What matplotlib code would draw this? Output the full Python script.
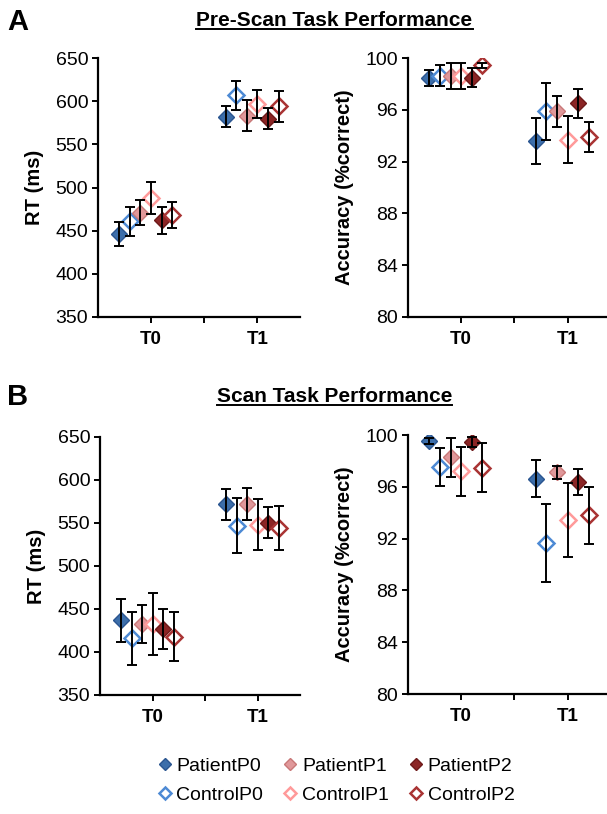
import numpy as np
import matplotlib
matplotlib.use('Agg')
import matplotlib.pyplot as plt
from matplotlib.lines import Line2D

plt.rcParams['font.family'] = ['Liberation Sans', 'DejaVu Sans']

# series order inside each time point
series = ['PatientP0', 'ControlP0', 'PatientP1', 'ControlP1', 'PatientP2', 'ControlP2']
timepoints = ['T0', 'T1']

# pre-scan task, values per series: [T0, T1]
pre_rt_mean = [[446, 582], [461, 607], [471, 583], [488, 597], [462, 580], [468, 594]]
pre_rt_err = [[14, 12], [17, 17], [14, 18], [19, 16], [16, 12], [15, 18]]
pre_acc_mean = [[98.45, 93.6], [98.65, 95.9], [98.65, 95.9], [98.65, 93.7], [98.5, 96.5], [99.45, 93.9]]
pre_acc_err = [[0.6, 1.75], [0.8, 2.2], [1.0, 1.2], [1.0, 1.8], [0.7, 1.1], [0.2, 1.15]]

# scan task
scan_rt_mean = [[437, 572], [416, 547], [433, 572], [432, 548], [427, 550], [418, 544]]
scan_rt_err = [[25, 18], [31, 32], [22, 19], [36, 30], [23, 18], [29, 26]]
scan_acc_mean = [[99.55, 96.65], [97.55, 91.65], [98.3, 97.15], [97.2, 93.45], [99.45, 96.4], [97.5, 93.8]]
scan_acc_err = [[0.2, 1.4], [1.45, 3.0], [1.5, 0.5], [1.9, 2.85], [0.4, 1.0], [1.9, 2.2]]

# styling per series
offsets = [-0.30, -0.20, -0.10, 0.0, 0.10, 0.20]
face_cols = ['#3c6eaa', 'white', '#e0989a', 'white', '#8b2525', 'white']
edge_cols = ['#2a5590', '#4d8ad4', '#c87878', '#ff9a9a', '#6e1a1a', '#a93434']

fig = plt.figure(figsize=(6.07, 8.14), dpi=100)


def draw_panel(rect, means, errs, ylim, yticks, ylabel, xmax):
    ax = fig.add_axes(rect)
    x = np.arange(len(timepoints))
    handles = []
    for i in range(len(series)):
        xs = x + offsets[i]
        h, = ax.plot(xs, means[i], linestyle='none', marker='D', ms=8,
                     mfc=face_cols[i], mec=edge_cols[i],
                     mew=1.0 if face_cols[i] != 'white' else 1.8,
                     label=series[i], zorder=2)
        handles.append(h)
        ax.errorbar(xs, means[i], yerr=errs[i], fmt='none', ecolor='black',
                    elinewidth=1.4, capsize=3.5, capthick=1.4, zorder=3)
    ax.set_xlim(-0.5, xmax)
    ax.set_ylim(*ylim)
    ax.set_yticks(yticks)
    ax.set_xticks([0, 0.5, 1])
    ax.set_xticklabels(['T0', '', 'T1'], fontweight='bold', fontsize=13.5)
    ax.tick_params(axis='y', labelsize=14, length=4, width=1.4, pad=3)
    ax.tick_params(axis='x', length=4, width=1.4, pad=6)
    for s in ['top', 'right']:
        ax.spines[s].set_visible(False)
    for s in ['left', 'bottom']:
        ax.spines[s].set_linewidth(1.6)
    ax.set_ylabel(ylabel, fontweight='bold', fontsize=14.5, labelpad=8)
    return ax, handles


rt_ticks = np.arange(350, 651, 50)
acc_ticks = np.arange(80, 101, 4)

ax1, handles = draw_panel([0.1614, 0.6106, 0.3328, 0.318], pre_rt_mean, pre_rt_err,
                          (350, 650), rt_ticks, 'RT (ms)', 1.4)
ax2, _ = draw_panel([0.672, 0.6106, 0.33, 0.318], pre_acc_mean, pre_acc_err,
                    (80, 100), acc_ticks, 'Accuracy (%correct)', 1.38)
ax3, _ = draw_panel([0.1647, 0.1462, 0.3295, 0.317], scan_rt_mean, scan_rt_err,
                    (350, 650), rt_ticks, 'RT (ms)', 1.4)
ax4, _ = draw_panel([0.672, 0.1474, 0.33, 0.318], scan_acc_mean, scan_acc_err,
                    (80, 100), acc_ticks, 'Accuracy (%correct)', 1.38)

# panel letters and titles
fig.text(0.012, 0.973, 'A', fontsize=21, fontweight='bold', va='center')
fig.text(0.012, 0.512, 'B', fontsize=21, fontweight='bold', va='center')
t1 = fig.text(0.551, 0.975, 'Pre-Scan Task Performance', fontsize=15,
              fontweight='bold', ha='center', va='center')
t2 = fig.text(0.551, 0.513, 'Scan Task Performance', fontsize=15,
              fontweight='bold', ha='center', va='center')

fig.legend(handles, series, ncol=3, loc='center', bbox_to_anchor=(0.553, 0.041),
           frameon=False, fontsize=14, handlelength=0.8, handletextpad=0.2,
           columnspacing=1.0, numpoints=1, markerscale=0.8, labelspacing=0.55)

# underline the titles
fig.canvas.draw()
renderer = fig.canvas.get_renderer()
inv = fig.transFigure.inverted()
for t in [t1, t2]:
    bb = t.get_window_extent(renderer)
    (x0, y0), (x1, _) = inv.transform([(bb.x0, bb.y0 + 1), (bb.x1, bb.y0)])
    fig.add_artist(Line2D([x0, x1], [y0, y0], transform=fig.transFigure,
                          color='black', lw=1.4))

fig.savefig('out.png', dpi=100)
